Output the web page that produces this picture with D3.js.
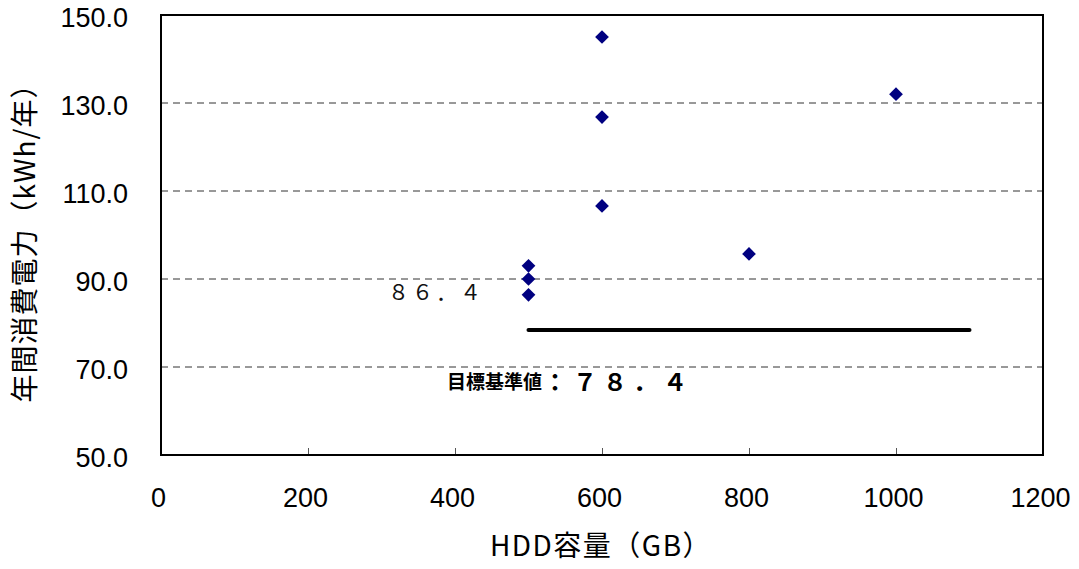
<!DOCTYPE html>
<html><head><meta charset="utf-8">
<script src="https://cdn.jsdelivr.net/npm/d3@7"></script>
<style>body{margin:0;background:#fff}svg{display:block}</style>
</head><body>
<script>
const capacityGB = [600, 600, 600, 1000, 800, 500, 500, 500];
const annualKWh = [145.0, 126.8, 106.6, 132.0, 95.7, 93.0, 90.0, 86.4];
const targetValue = 78.4;
const targetRange = [500, 1100];
const xTicks = [0, 200, 400, 600, 800, 1000, 1200];
const yTicks = [50, 70, 90, 110, 130, 150];
const minLabel = "８６．４";
const targetLabelA = "目標基準値";
const targetLabelB = "：７８．４";
const xTitle = "HDD容量（GB）";
const yTitle = "年間消費電力（kWh/年）";

const W = 1079, H = 569;
const L = 161, R = 1043, T = 15, B = 455;
const svg = d3.select("body").append("svg").attr("width", W).attr("height", H);
const x = d3.scaleLinear().domain([0, 1200]).range([L, R]);
const y = d3.scaleLinear().domain([50, 150]).range([B, T]);
const font = "'Liberation Sans', Arial, sans-serif";
const cjk = "'Noto Sans CJK JP', sans-serif";

// gridlines
svg.append("g").selectAll("line").data(yTicks.filter(v => v > 50 && v < 150)).join("line")
  .attr("x1", L).attr("x2", R).attr("y1", d => y(d)).attr("y2", d => y(d))
  .attr("stroke", "#333").attr("stroke-width", 1).attr("stroke-dasharray", "7,5");

// x axis ticks (inward)
const xa = svg.append("g").attr("transform", `translate(0,${B})`)
  .call(d3.axisBottom(x).tickValues(xTicks).tickSizeInner(-7).tickSizeOuter(0).tickPadding(33).tickFormat(d3.format("d")));
xa.select(".domain").remove();
xa.selectAll("line").attr("stroke", "#555");
xa.selectAll("text").attr("font-family", font).attr("font-size", 27).attr("fill", "#000").attr("dx", -3);

const ya = svg.append("g").attr("transform", `translate(${L},0)`)
  .call(d3.axisLeft(y).tickValues(yTicks).tickSize(0).tickPadding(33).tickFormat(d3.format(".1f")));
ya.select(".domain").remove();
ya.selectAll("text").attr("font-family", font).attr("font-size", 27).attr("fill", "#000")
  .attr("dy", "0.42em");

// frame
svg.append("rect").attr("x", L).attr("y", T).attr("width", R - L).attr("height", B - T)
  .attr("fill", "none").attr("stroke", "#000").attr("stroke-width", 2);

// target line
svg.append("line").attr("x1", x(targetRange[0])).attr("x2", x(targetRange[1]))
  .attr("y1", y(targetValue)).attr("y2", y(targetValue))
  .attr("stroke", "#000").attr("stroke-width", 4).attr("stroke-linecap", "round");

// points
const sym = d3.symbol().type(d3.symbolDiamond2).size(120);
svg.append("g").selectAll("path").data(capacityGB.map((c, i) => [c, annualKWh[i]])).join("path")
  .attr("transform", d => `translate(${x(d[0])},${y(d[1])})`)
  .attr("d", sym).attr("fill", "#000080");

// labels
svg.append("text").attr("x", 388).attr("y", y(86.4) - 1)
  .attr("font-family", cjk).attr("font-size", 21).attr("font-weight", 400)
  .attr("dominant-baseline", "middle").attr("letter-spacing", 3).attr("fill", "#111").text(minLabel);
const tl = svg.append("text").attr("x", 447).attr("y", 384)
  .attr("font-family", cjk).attr("font-size", 19).attr("font-weight", 700)
  .attr("dominant-baseline", "middle");
tl.append("tspan").text(targetLabelA);
tl.append("tspan").attr("font-size", 24).attr("letter-spacing", 6).attr("dx", 1).text(targetLabelB);

// titles
svg.append("text").attr("x", 601).attr("y", 548).attr("text-anchor", "middle")
  .attr("dominant-baseline", "middle").attr("letter-spacing", 1.5)
  .attr("font-family", cjk).attr("font-size", 28).text(xTitle);
svg.append("text").attr("transform", `translate(27,236) rotate(-90)`).attr("text-anchor", "middle")
  .attr("dominant-baseline", "middle").attr("letter-spacing", 1)
  .attr("font-family", cjk).attr("font-size", 28).text(yTitle);
</script>
</body></html>
